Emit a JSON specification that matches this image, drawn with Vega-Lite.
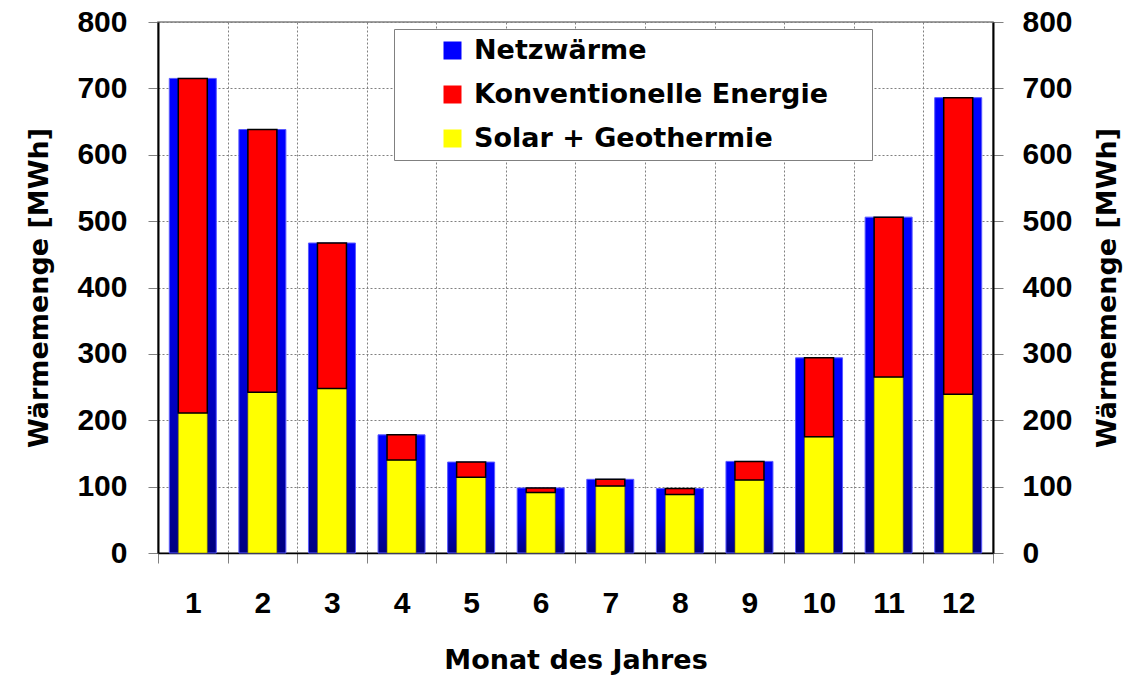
{
  "$schema": "https://vega.github.io/schema/vega-lite/v6.json",
  "width": 835,
  "height": 531,
  "autosize": "none",
  "padding": {"left": 158, "top": 22, "right": 138, "bottom": 122},
  "background": "white",
  "config": {
    "font": "Liberation Sans",
    "view": {"stroke": "#808080", "strokeWidth": 1.5},
    "axis": {
      "labelFont": "Liberation Sans",
      "labelFontSize": 30,
      "labelFontWeight": "bold",
      "labelColor": "black",
      "labelOverlap": false,
      "titleFont": "DejaVu Sans",
      "titleFontSize": 27,
      "titleFontWeight": "bold",
      "titleColor": "black",
      "tickColor": "#808080",
      "tickSize": 10,
      "tickWidth": 1,
      "domainColor": "black",
      "domainWidth": 2,
      "gridColor": "#808080",
      "gridDash": [2, 2],
      "gridWidth": 1,
      "gridOpacity": 1
    }
  },
  "data": {
    "values": [
      {"monat": 1, "netz": 715, "solar": 211},
      {"monat": 2, "netz": 638, "solar": 242},
      {"monat": 3, "netz": 467, "solar": 248},
      {"monat": 4, "netz": 178, "solar": 140},
      {"monat": 5, "netz": 137, "solar": 114},
      {"monat": 6, "netz": 98, "solar": 91},
      {"monat": 7, "netz": 111, "solar": 101},
      {"monat": 8, "netz": 97, "solar": 88},
      {"monat": 9, "netz": 138, "solar": 110},
      {"monat": 10, "netz": 294, "solar": 175},
      {"monat": 11, "netz": 506, "solar": 265},
      {"monat": 12, "netz": 686, "solar": 239}
    ]
  },
  "encoding": {
    "x": {
      "field": "monat",
      "type": "ordinal",
      "scale": {"paddingInner": 0, "paddingOuter": 0},
      "axis": {
        "title": "Monat des Jahres",
        "labelAngle": 0,
        "labelBaseline": "alphabetic",
        "labelPadding": 49,
        "tickBand": "extent",
        "grid": true,
        "domainWidth": 1.5,
        "titleY": 115,
        "titleBaseline": "alphabetic"
      }
    }
  },
  "layer": [
    {
      "mark": {
        "type": "bar",
        "width": 47,
        "stroke": "#5a5aff",
        "strokeWidth": 1,
        "color": {
          "gradient": "linear",
          "x1": 0, "y1": 0, "x2": 0, "y2": 1,
          "stops": [
            {"offset": 0, "color": "#0000ff"},
            {"offset": 0.45, "color": "#0000ee"},
            {"offset": 1, "color": "#000080"}
          ]
        }
      },
      "encoding": {
        "y": {
          "field": "netz",
          "type": "quantitative",
          "stack": null,
          "scale": {"domain": [0, 800], "nice": false},
          "axis": {
            "title": "Wärmemenge [MWh]",
            "orient": "left",
            "values": [0, 100, 200, 300, 400, 500, 600, 700, 800],
            "labelPadding": 21,
            "grid": true,
            "titleX": -111,
            "titleAngle": -90,
            "titleBaseline": "alphabetic"
          }
        }
      }
    },
    {
      "mark": {"type": "bar", "width": 29, "stroke": "#6b6b00", "strokeWidth": 0.6},
      "encoding": {
        "y": {
          "field": "solar",
          "type": "quantitative",
          "stack": null,
          "axis": {
            "title": "Wärmemenge [MWh]",
            "orient": "right",
            "values": [0, 100, 200, 300, 400, 500, 600, 700, 800],
            "labelPadding": 19,
            "grid": false,
            "titleX": 122,
            "titleAngle": -90,
            "titleBaseline": "alphabetic"
          }
        },
        "color": {
          "datum": "Solar + Geothermie",
          "scale": {
            "domain": ["Netzwärme", "Konventionelle Energie", "Solar + Geothermie"],
            "range": ["#0000ff", "#ff0000", "#ffff00"]
          },
          "legend": {
            "title": "\u00a0",
            "titleOrient": "right",
            "titlePadding": 36,
            "titleFontSize": 8,
            "orient": "none",
            "legendX": 236,
            "legendY": 7,
            "fillColor": "white",
            "strokeColor": "#808080",
            "padding": 8,
            "rowPadding": 16,
            "symbolType": "square",
            "symbolSize": 324,
            "symbolOffset": 37,
            "symbolStrokeWidth": 0,
            "labelOffset": 8,
            "labelFont": "DejaVu Sans",
            "labelFontSize": 27,
            "labelFontWeight": "bold",
            "labelColor": "black",
            "labelLimit": 500,
            "encode": {
              "symbols": {
                "update": {
                  "stroke": {"signal": "datum.label == 'Konventionelle Energie' ? 'black' : 'transparent'"},
                  "strokeWidth": {"value": 1.5}
                }
              }
            }
          }
        }
      }
    },
    {
      "mark": {"type": "bar", "width": 29, "stroke": "black", "strokeWidth": 1.5},
      "encoding": {
        "y": {"field": "solar", "type": "quantitative", "stack": null, "axis": null},
        "y2": {"field": "netz"},
        "color": {"datum": "Konventionelle Energie"}
      }
    }
  ],
  "resolve": {"axis": {"y": "independent"}}
}
